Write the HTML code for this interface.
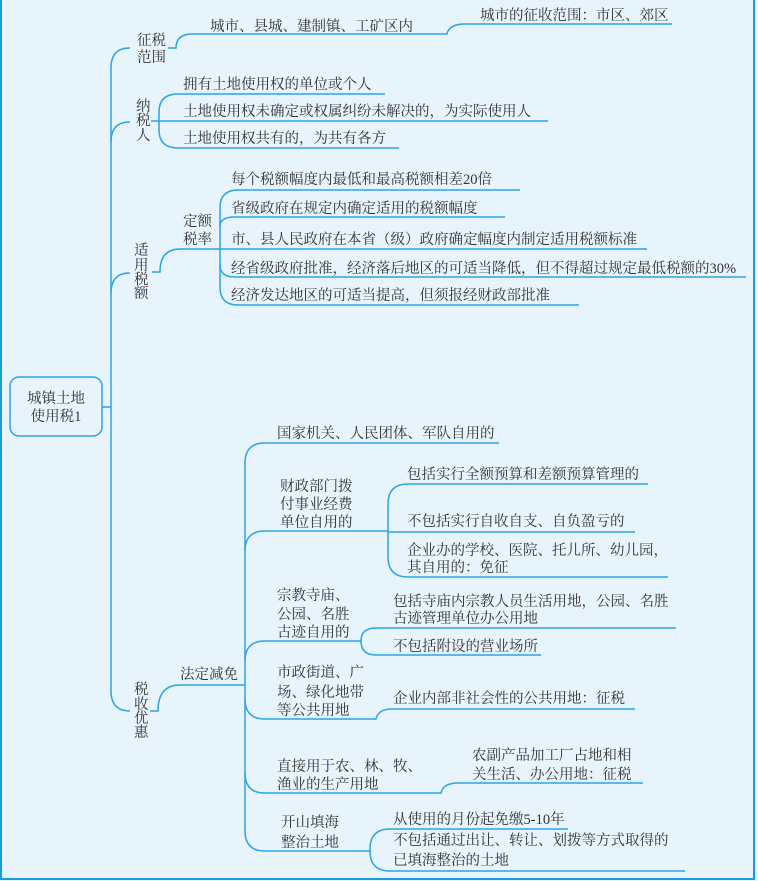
<!DOCTYPE html>
<html><head><meta charset="utf-8"><style>
html,body{margin:0;padding:0;background:#e8f4fc;}
svg{display:block}
text{font-family:"Liberation Serif","Noto Serif CJK SC",serif;font-size:14.5px;fill:#333;dominant-baseline:central}
.l{fill:none;stroke:#2aa5e6;stroke-width:1.5}
</style></head><body>
<svg width="758" height="881" viewBox="0 0 758 881">
<rect x="0" y="0" width="758" height="881" fill="#e8f4fc"/>
<path d="M1,0 V879 H754 V0" fill="none" stroke="#1a9be0" stroke-width="2"/>
<rect x="10" y="377" width="92" height="59" rx="9" fill="#e8f4fc" stroke="#2aa5e6" stroke-width="1.5"/>
<text x="56" y="399" text-anchor="middle">城镇土地</text>
<text x="56" y="417" text-anchor="middle">使用税1</text>
<path class="l" d="M102,407 H111"/>
<path class="l" d="M130,48 Q111,48 111,68 V691 Q111,711 130,711"/>
<path class="l" d="M111,142 Q111,122 130,122"/>
<path class="l" d="M111,293 Q111,273 130,273"/>
<text x="137" y="41">征税</text><text x="137" y="58">范围</text>
<path class="l" d="M168,48 H176 Q176,34 192,34 H447 Q449,24 465,24 H672"/>
<text x="210" y="27">城市、县城、建制镇、工矿区内</text>
<text x="480" y="16">城市的征收范围：市区、郊区</text>
<text x="136" y="107">纳</text><text x="136" y="121">税</text><text x="136" y="136">人</text>
<path class="l" d="M151,121 H548"/>
<path class="l" d="M385,94 H178 Q159,94 159,112 V130 Q159,148 178,148 H399"/>
<text x="183" y="85">拥有土地使用权的单位或个人</text>
<text x="183" y="112">土地使用权未确定或权属纠纷未解决的，为实际使用人</text>
<text x="183" y="139">土地使用权共有的，为共有各方</text>
<text x="134" y="251">适</text><text x="134" y="266">用</text><text x="134" y="280">税</text><text x="134" y="294">额</text>
<path class="l" d="M152,272 H160 Q160,249 180,249 H647"/>
<text x="183" y="222">定额</text><text x="183" y="240">税率</text>
<path class="l" d="M520,190 H238 Q220,190 220,208 V287 Q220,305 238,305 H579"/>
<path class="l" d="M220,226 Q220,217 235,217 H505"/>
<path class="l" d="M220,265 Q220,277 235,277 H746"/>
<text x="231" y="180">每个税额幅度内最低和最高税额相差20倍</text>
<text x="231" y="209">省级政府在规定内确定适用的税额幅度</text>
<text x="231" y="240">市、县人民政府在本省（级）政府确定幅度内制定适用税额标准</text>
<text x="231" y="269">经省级政府批准，经济落后地区的可适当降低，但不得超过规定最低税额的30%</text>
<text x="231" y="296">经济发达地区的可适当提高，但须报经财政部批准</text>
<text x="134" y="690">税</text><text x="134" y="705">收</text><text x="134" y="719">优</text><text x="134" y="733">惠</text>
<path class="l" d="M150,711 H158 Q158,685 180,685 H245"/>
<text x="180" y="675">法定减免</text>
<path class="l" d="M499,443 H265 Q245,443 245,463 V831 Q245,851 265,851 H370"/>
<text x="277" y="434">国家机关、人民团体、军队自用的</text>
<path class="l" d="M245,551 Q245,531 265,531 H388"/>
<text x="280" y="487">财政部门拨</text><text x="280" y="505">付事业经费</text><text x="280" y="523">单位自用的</text>
<path class="l" d="M648,484 H408 Q388,484 388,504 V557 Q388,577 408,577 H668"/>
<path class="l" d="M388,532 H635"/>
<text x="407" y="475">包括实行全额预算和差额预算管理的</text>
<text x="407" y="522">不包括实行自收自支、自负盈亏的</text>
<text x="407" y="551">企业办的学校、医院、托儿所、幼儿园，</text>
<text x="407" y="568">其自用的：免征</text>
<path class="l" d="M245,661 Q245,641 265,641 H361"/>
<text x="277" y="596">宗教寺庙、</text><text x="277" y="615">公园、名胜</text><text x="277" y="633">古迹自用的</text>
<path class="l" d="M676,628 H376 Q361,628 361,641 Q361,655 376,655 H541"/>
<text x="393" y="602">包括寺庙内宗教人员生活用地，公园、名胜</text>
<text x="393" y="619">古迹管理单位办公用地</text>
<text x="393" y="647">不包括附设的营业场所</text>
<path class="l" d="M245,699 Q245,719 265,719 H376 Q378,709 392,709 H635"/>
<text x="277" y="673">市政街道、广</text><text x="277" y="693">场、绿化地带</text><text x="277" y="711">等公共用地</text>
<text x="393" y="699">企业内部非社会性的公共用地：征税</text>
<path class="l" d="M245,773 Q245,793 265,793 H441 Q443,783 458,783 H643"/>
<text x="277" y="767">直接用于农、林、牧、</text><text x="277" y="785">渔业的生产用地</text>
<text x="472" y="756">农副产品加工厂占地和相</text><text x="472" y="775">关生活、办公用地：征税</text>
<text x="281" y="823">开山填海</text><text x="281" y="843">整治土地</text>
<path class="l" d="M568,829 H390 Q370,829 370,849 V851 Q370,871 390,871 H685"/>
<text x="393" y="820">从使用的月份起免缴5-10年</text>
<text x="393" y="841">不包括通过出让、转让、划拨等方式取得的</text>
<text x="393" y="861">已填海整治的土地</text>
</svg>
</body></html>
